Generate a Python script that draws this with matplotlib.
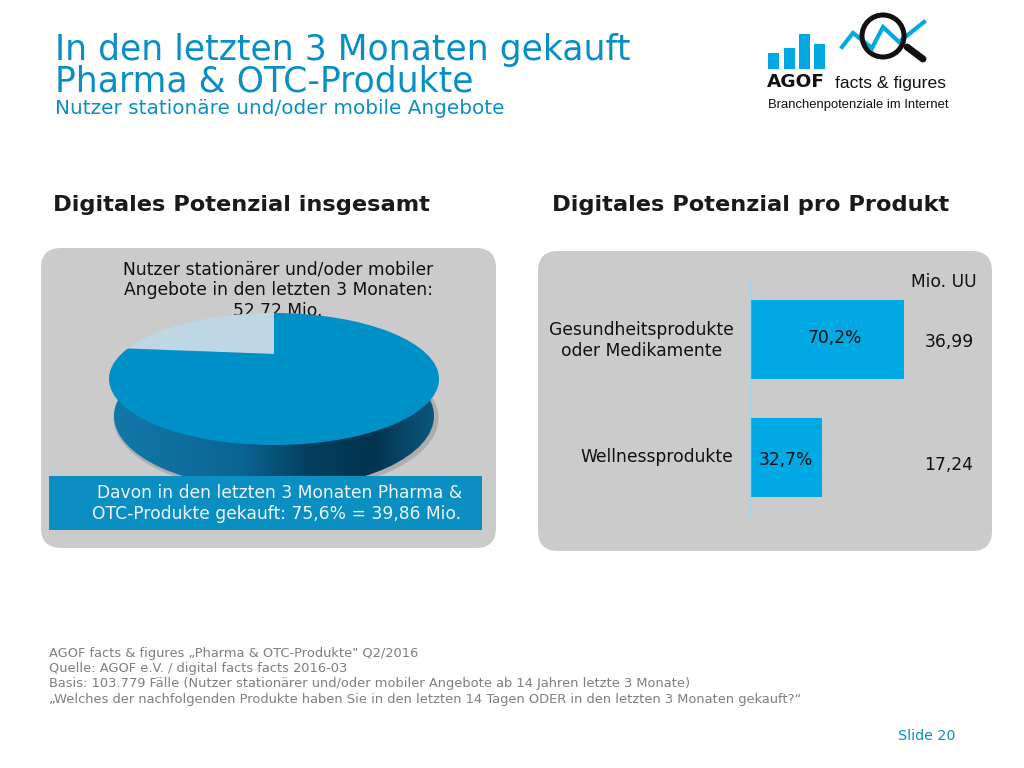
import numpy as np
import matplotlib
matplotlib.use("Agg")
import matplotlib.pyplot as plt
from matplotlib.colors import LinearSegmentedColormap
from matplotlib.patches import Ellipse, FancyBboxPatch, Rectangle, Circle
from matplotlib.transforms import ScaledTranslation

# data
pie_shares = [24.4, 75.6]
products = ["Gesundheitsprodukte\noder Medikamente", "Wellnessprodukte"]
product_share = [70.2, 32.7]
product_mio = [36.99, 17.24]
logo_bars = [16, 21, 35, 25]
logo_line_x = [842, 853, 872, 883, 899, 924]
logo_line_y = [47, 33, 48, 27, 42, 22]
footer_lines = [
    "AGOF facts & figures „Pharma & OTC-Produkte\" Q2/2016",
    "Quelle: AGOF e.V. / digital facts facts 2016-03",
    "Basis: 103.779 Fälle (Nutzer stationärer und/oder mobiler Angebote ab 14 Jahren letzte 3 Monate)",
    "„Welches der nachfolgenden Produkte haben Sie in den letzten 14 Tagen ODER in den letzten 3 Monaten gekauft?“",
]

BLUE = "#0a8fc4"
BAR_BLUE = "#00a9e3"
PANEL = "#cbcbcb"
TEXT = "#111111"
BODY = 12.35

fig = plt.figure(figsize=(10.24, 7.68), dpi=100, facecolor="white")

# whole figure axes, data units are pixels of the slide
ax = fig.add_axes([0, 0, 1, 1])
ax.set_xlim(0, 1024)
ax.set_ylim(768, 0)
ax.axis("off")


def panel(x0, y0, x1, y1):
    ax.add_patch(FancyBboxPatch((x0, y0), x1 - x0, y1 - y0,
                                boxstyle="round,pad=0,rounding_size=20",
                                fc=PANEL, ec="none", zorder=1))


# title block
ax.text(55, 60, "In den letzten 3 Monaten gekauft", fontsize=24.9, color=BLUE, va="baseline")
ax.text(55, 92, "Pharma & OTC-Produkte", fontsize=24.9, color=BLUE, va="baseline")
ax.text(55, 114, "Nutzer stationäre und/oder mobile Angebote", fontsize=14.43, color=BLUE, va="baseline")

ax.text(241, 211, "Digitales Potenzial insgesamt", fontsize=16.2, fontweight="bold",
        color="#1a1a1a", ha="center", va="baseline")
ax.text(751, 211, "Digitales Potenzial pro Produkt", fontsize=16.2, fontweight="bold",
        color="#1a1a1a", ha="center", va="baseline")

panel(41, 248, 496, 548)
panel(538, 251, 992, 551)

# text goes under the pie, the top edge cuts the last line
ax.text(278, 269.5, "Nutzer stationärer und/oder mobiler", fontsize=BODY, color=TEXT, ha="center", va="center", zorder=2)
ax.text(278, 290, "Angebote in den letzten 3 Monaten:", fontsize=BODY, color=TEXT, ha="center", va="center", zorder=2)
ax.text(278, 311, "52,72 Mio.", fontsize=BODY, color=TEXT, ha="center", va="center", zorder=2)

# pie side with shadow
ax.add_patch(Ellipse((276, 418), 325, 150, fc="#8a8a8a", ec="none", alpha=0.45, zorder=2.5))
side_cmap = LinearSegmentedColormap.from_list(
    "side", ["#1279ab", "#0f6f9f", "#0c6492", "#03405f", "#03344f", "#0b5a80"])
side = ax.imshow(np.linspace(0, 1, 256).reshape(1, -1), cmap=side_cmap, aspect="auto",
                 extent=(109, 439, 490, 379), zorder=3)
side_clip = Ellipse((274, 416), 320, 146, transform=ax.transData)
side.set_clip_path(side_clip)

# top of the pie
top = Ellipse((274, 379), 330, 132, fc="none", ec="none", zorder=3.5)
ax.add_patch(top)
wedges, _ = ax.pie(pie_shares, colors=["#bdd7e4", "#0090c8"], startangle=-90, counterclock=False,
                   center=(274, 354), radius=220)
for w in wedges:
    w.set_zorder(4)
    w.set_clip_on(True)
    w.set_clip_path(top)

ax.set_xlim(0, 1024)
ax.set_ylim(768, 0)
ax.set_aspect("auto")
ax.axis("off")

ax.add_patch(Rectangle((49, 476), 433, 54, fc="#0b8ec2", ec="none", zorder=5))
ax.text(462, 493, "Davon in den letzten 3 Monaten Pharma &", fontsize=BODY, color="#eef6fa",
        ha="right", va="center", zorder=6)
ax.text(461, 514, "OTC-Produkte gekauft: 75,6% = 39,86 Mio.", fontsize=BODY, color="#eef6fa",
        ha="right", va="center", zorder=6)

# bar chart
bar_ax = fig.add_axes([750.3 / 1024, (768 - 516) / 768, 249 / 1024, 236 / 768])
bar_ax.patch.set_alpha(0)
y_pos = np.arange(len(products))
bar_ax.barh(y_pos, product_share, height=0.67, color=BAR_BLUE)
bar_ax.set_xlim(0, 249 / 2.19)
bar_ax.set_ylim(1.496, -0.504)
bar_ax.set_xticks([])
bar_ax.set_yticks(y_pos, products, fontsize=BODY, color=TEXT, multialignment="center")
bar_ax.tick_params(axis="y", length=0, pad=12)
for lbl in bar_ax.get_yticklabels():
    lbl.set_transform(lbl.get_transform() + ScaledTranslation(0, 1.5 / 72, fig.dpi_scale_trans))
for s in ["top", "right", "bottom"]:
    bar_ax.spines[s].set_visible(False)
bar_ax.spines["left"].set_color("#a5d4ea")
bar_ax.spines["left"].set_linewidth(1.0)

label_shift = [(5.5, 1), (0, -1.5)]
for i, v in enumerate(product_share):
    bar_ax.annotate(f"{v:.1f}%".replace(".", ","), (v / 2, i), xytext=label_shift[i],
                    textcoords="offset points", ha="center", va="center", fontsize=BODY, color=TEXT)

ax.text(944, 282, "Mio. UU", fontsize=BODY, color=TEXT, ha="center", va="center", zorder=6)
mio_y = [342, 465]
for yy, v in zip(mio_y, product_mio):
    ax.text(949, yy, f"{v:.2f}".replace(".", ","), fontsize=BODY, color=TEXT, ha="center", va="center", zorder=6)

# footer
for yy, line in zip([657, 672, 687, 703], footer_lines):
    ax.text(49, yy, line, fontsize=9.35, color="#7f7f7f", va="baseline")
ax.text(956, 740, "Slide 20", fontsize=10.3, color=BLUE, ha="right", va="baseline")

# logo
for x0, h in zip([768, 784, 799, 814], logo_bars):
    ax.add_patch(Rectangle((x0, 69 - h), 11, h, fc=BAR_BLUE, ec="none", zorder=2))
ax.plot(logo_line_x, logo_line_y, color=BAR_BLUE, lw=3, solid_joinstyle="miter", zorder=2)
ax.add_patch(Circle((883, 36), 21, fc="none", ec="#111111", lw=3.6, zorder=3))
ax.plot([907, 923], [47, 59], color="#111111", lw=5, solid_capstyle="round", zorder=3)
ax.text(767, 87, "AGOF", fontsize=13.3, fontweight="bold", color="#111111", va="baseline")
ax.text(835, 88, "facts & figures", fontsize=12.6, color="#111111", family="Liberation Sans", va="baseline")
ax.text(768, 108, "Branchenpotenziale im Internet", fontsize=9.4, color="#111111",
        family="Liberation Sans", va="baseline")

fig.savefig("out.png", dpi=100)
